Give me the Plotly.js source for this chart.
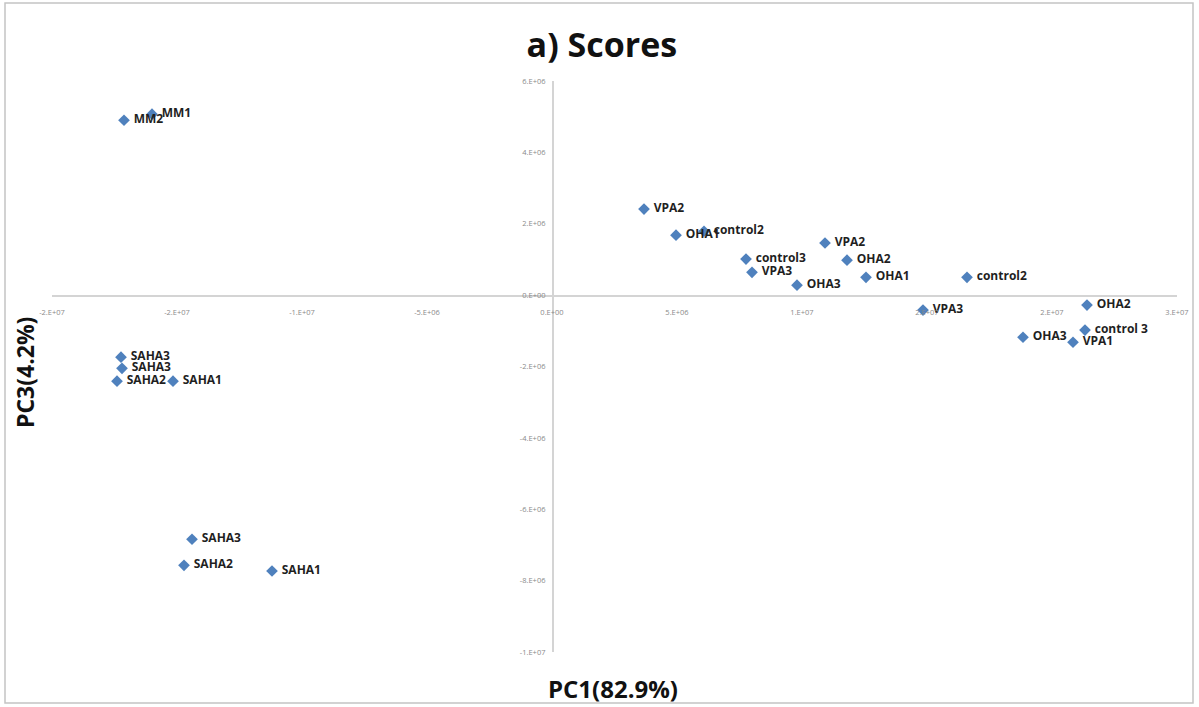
<!DOCTYPE html>
<html>
<head>
<meta charset="utf-8">
<script src="https://cdn.plot.ly/plotly-3.0.1.min.js"></script>
<style>
  html, body { margin: 0; padding: 0; background: #ffffff; }
  #chart { width: 1199px; height: 707px; }
</style>
</head>
<body>
<div id="chart"></div>
<script>
// PCA score plot: PC1 vs PC3 for each sample
const sampleNames = [
  'MM1', 'MM2',
  'SAHA3', 'SAHA3', 'SAHA2', 'SAHA1',
  'SAHA3', 'SAHA2', 'SAHA1',
  'VPA2', 'OHA1', 'control2', 'control3', 'VPA3', 'OHA3',
  'VPA2', 'OHA2', 'OHA1', 'control2', 'VPA3',
  'OHA2', 'control 3', 'OHA3', 'VPA1'
];
const pc1Scores = [
  -1.60e7, -1.712e7,
  -1.724e7, -1.72e7, -1.74e7, -1.516e7,
  -1.44e7, -1.472e7, -1.12e7,
  3.68e6, 4.96e6, 6.08e6, 7.76e6, 8.0e6, 9.8e6,
  1.092e7, 1.18e7, 1.256e7, 1.66e7, 1.484e7,
  2.14e7, 2.132e7, 1.884e7, 2.084e7
];
const pc3Scores = [
  5.07e6, 4.90e6,
  -1.74e6, -2.05e6, -2.41e6, -2.41e6,
  -6.84e6, -7.57e6, -7.73e6,
  2.41e6, 1.68e6, 1.79e6, 1.01e6, 0.64e6, 0.28e6,
  1.46e6, 0.98e6, 0.50e6, 0.50e6, -0.42e6,
  -0.28e6, -0.98e6, -1.18e6, -1.32e6
];

// Axis ticks with Excel-style "0.E+00" labels
const xTickVals = [-2e7, -1.5e7, -1e7, -5e6, 0, 5e6, 1e7, 1.5e7, 2e7, 2.5e7];
const xTickText = ['-2.E+07', '-2.E+07', '-1.E+07', '-5.E+06', '0.E+00',
                   '5.E+06', '1.E+07', '2.E+07', '2.E+07', '3.E+07'];
const yTickVals = [-1e7, -8e6, -6e6, -4e6, -2e6, 0, 2e6, 4e6, 6e6];
const yTickText = ['-1.E+07', '-8.E+06', '-6.E+06', '-4.E+06', '-2.E+06',
                   '0.E+00', '2.E+06', '4.E+06', '6.E+06'];

const xRange = [-2e7, 2.5e7];
const yRange = [-1e7, 6e6];

const W = 1199, H = 707;
const M = { l: 52, r: 22, t: 81, b: 55 };
const plotW = W - M.l - M.r, plotH = H - M.t - M.b;
// convert page pixels to paper fractions for decorations
const px = v => (v - M.l) / plotW;
const py = v => (H - M.b - v) / plotH;

const baseFont = 'Open Sans, Lato, Liberation Sans, sans-serif';

const trace = {
  type: 'scatter',
  mode: 'markers+text',
  x: pc1Scores,
  y: pc3Scores,
  // a thin leading gap keeps each label a little away from its marker
  text: sampleNames.map(s => '\u00a0' + s),
  textposition: 'middle right',
  cliponaxis: false,
  marker: { symbol: 'diamond', size: 9, color: '#4F81BD',
            line: { width: 0 } },
  textfont: { family: baseFont, size: 12, color: '#1f1f1f', weight: 'bold' },
  hoverinfo: 'x+y+text'
};

// axes cross at the origin, like the source spreadsheet chart
const yZeroFrac = (0 - yRange[0]) / (yRange[1] - yRange[0]);
const xZeroFrac = (0 - xRange[0]) / (xRange[1] - xRange[0]);

const axisCommon = {
  showgrid: false,
  zeroline: false,
  showline: true,
  linecolor: '#d4d4d4',
  linewidth: 1.5,
  ticks: '',
  tickmode: 'array',
  tickfont: { family: baseFont, size: 7.5, color: '#8a8a8a' },
  fixedrange: true
};

const layout = {
  width: W,
  height: H,
  margin: M,
  paper_bgcolor: '#ffffff',
  plot_bgcolor: '#ffffff',
  showlegend: false,
  title: {
    text: 'a) Scores',
    font: { family: baseFont, size: 34, color: '#111111', weight: 'bold' },
    x: 0.502, xanchor: 'center',
    y: 1 - 45 / H, yanchor: 'middle'
  },
  xaxis: Object.assign({}, axisCommon, {
    range: xRange,
    tickvals: xTickVals,
    ticktext: xTickText,
    anchor: 'free',
    position: yZeroFrac,
    ticklabelstandoff: 9
  }),
  yaxis: Object.assign({}, axisCommon, {
    range: yRange,
    tickvals: yTickVals,
    ticktext: yTickText,
    anchor: 'free',
    position: xZeroFrac,
    ticklabelstandoff: 5
  }),
  annotations: [
    {
      text: 'PC1(82.9%)', showarrow: false,
      xref: 'paper', yref: 'paper',
      x: px(613), y: py(688), xanchor: 'center', yanchor: 'middle',
      font: { family: baseFont, size: 24, color: '#111111', weight: 'bold' }
    },
    {
      text: 'PC3(4.2%)', showarrow: false, textangle: -90,
      xref: 'paper', yref: 'paper',
      x: px(25), y: py(373), xanchor: 'center', yanchor: 'middle',
      font: { family: baseFont, size: 23, color: '#111111', weight: 'bold' }
    }
  ],
  shapes: [
    {
      type: 'rect', xref: 'paper', yref: 'paper',
      x0: px(5), x1: px(1193), y0: py(703), y1: py(3),
      line: { color: '#c4c4c4', width: 1.5 }, fillcolor: 'rgba(0,0,0,0)',
      layer: 'below'
    }
  ]
};

Plotly.newPlot('chart', [trace], layout, { displayModeBar: false, staticPlot: true });
</script>
</body>
</html>
